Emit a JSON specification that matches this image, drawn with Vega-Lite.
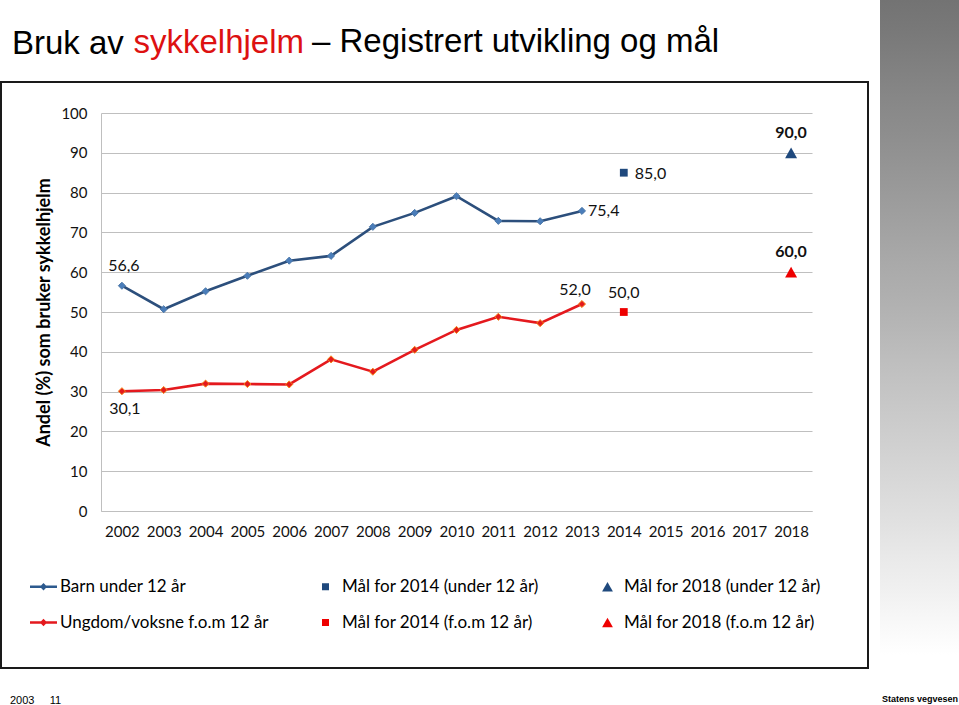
{
  "$schema": "https://vega.github.io/schema/vega-lite/v6.json",
  "width": 867,
  "height": 586,
  "autosize": {"type": "none"},
  "padding": {"left": 1, "top": 82, "right": 91, "bottom": 37},
  "background": "white",
  "config": {
    "locale": {"number": {"decimal": ",", "thousands": " ", "grouping": [3], "currency": ["", " kr"]}},
    "view": {"stroke": "#1a1a1a", "strokeWidth": 2},
    "font": "Lato"
  },
  "title": {
    "text": "Bruk av",
    "font": "Liberation Sans",
    "fontSize": 33,
    "fontWeight": "normal",
    "color": "#000000",
    "anchor": "start",
    "frame": "group",
    "dx": 11,
    "offset": -87,
    "baseline": "alphabetic"
  },
  "datasets": {
    "obs": [
      {"year": 2002, "series": "Barn under 12 år", "value": 56.6},
      {"year": 2003, "series": "Barn under 12 år", "value": 50.7},
      {"year": 2004, "series": "Barn under 12 år", "value": 55.2},
      {"year": 2005, "series": "Barn under 12 år", "value": 59.1},
      {"year": 2006, "series": "Barn under 12 år", "value": 62.9},
      {"year": 2007, "series": "Barn under 12 år", "value": 64.1},
      {"year": 2008, "series": "Barn under 12 år", "value": 71.4},
      {"year": 2009, "series": "Barn under 12 år", "value": 74.9},
      {"year": 2010, "series": "Barn under 12 år", "value": 79.1},
      {"year": 2011, "series": "Barn under 12 år", "value": 72.9},
      {"year": 2012, "series": "Barn under 12 år", "value": 72.8},
      {"year": 2013, "series": "Barn under 12 år", "value": 75.4},
      {"year": 2002, "series": "Ungdom/voksne f.o.m 12 år", "value": 30.1},
      {"year": 2003, "series": "Ungdom/voksne f.o.m 12 år", "value": 30.4},
      {"year": 2004, "series": "Ungdom/voksne f.o.m 12 år", "value": 32.0},
      {"year": 2005, "series": "Ungdom/voksne f.o.m 12 år", "value": 31.9},
      {"year": 2006, "series": "Ungdom/voksne f.o.m 12 år", "value": 31.8},
      {"year": 2007, "series": "Ungdom/voksne f.o.m 12 år", "value": 38.1},
      {"year": 2008, "series": "Ungdom/voksne f.o.m 12 år", "value": 35.0},
      {"year": 2009, "series": "Ungdom/voksne f.o.m 12 år", "value": 40.5},
      {"year": 2010, "series": "Ungdom/voksne f.o.m 12 år", "value": 45.5},
      {"year": 2011, "series": "Ungdom/voksne f.o.m 12 år", "value": 48.8},
      {"year": 2012, "series": "Ungdom/voksne f.o.m 12 år", "value": 47.2},
      {"year": 2013, "series": "Ungdom/voksne f.o.m 12 år", "value": 52.0}
    ],
    "targets": [
      {"year": 2014, "series": "Mål for 2014 (under 12 år)", "value": 85.0},
      {"year": 2014, "series": "Mål for 2014 (f.o.m 12 år)", "value": 50.0},
      {"year": 2018, "series": "Mål for 2018 (under 12 år)", "value": 90.0},
      {"year": 2018, "series": "Mål for 2018 (f.o.m 12 år)", "value": 60.0}
    ]
  },
  "encoding": {
    "x": {
      "field": "year",
      "type": "ordinal",
      "scale": {"type": "point", "domain": [2002, 2003, 2004, 2005, 2006, 2007, 2008, 2009, 2010, 2011, 2012, 2013, 2014, 2015, 2016, 2017, 2018], "range": [100, 811], "padding": 0.5},
      "axis": {
        "orient": "bottom",
        "offset": -157,
        "domain": true,
        "domainColor": "#BFBFBF",
        "domainWidth": 1,
        "ticks": false,
        "grid": false,
        "labelAngle": 0,
        "labelFont": "Lato",
        "labelFontSize": 15,
        "labelColor": "#111111",
        "labelPadding": 13,
        "title": "sykkelhjelm",
        "titleColor": "#DD1111",
        "titleFont": "Liberation Sans",
        "titleFontSize": 33,
        "titleFontWeight": "normal",
        "titleX": 132,
        "titleY": -459,
        "titleAlign": "left",
        "titleAnchor": null,
        "titleBaseline": "alphabetic"
      }
    },
    "y": {
      "field": "value",
      "type": "quantitative",
      "scale": {"domain": [0, 100], "range": [429, 31], "nice": false},
      "axis": {
        "orient": "left",
        "offset": -100,
        "domain": true,
        "domainColor": "#BFBFBF",
        "domainWidth": 1,
        "ticks": false,
        "grid": true,
        "gridColor": "#BFBFBF",
        "gridWidth": 1,
        "values": [0, 10, 20, 30, 40, 50, 60, 70, 80, 90, 100],
        "format": "d",
        "labelFont": "Lato",
        "labelFontSize": 15,
        "labelColor": "#111111",
        "labelPadding": 14,
        "title": "Andel (%) som bruker sykkelhjelm",
        "titleFont": "Lato",
        "titleFontSize": 18,
        "titleFontWeight": "bold",
        "titleColor": "#000000",
        "titlePadding": 7
      }
    }
  },
  "layer": [
    {
      "data": {"name": "obs"},
      "mark": {"type": "line", "strokeWidth": 2.6},
      "encoding": {
        "stroke": {
          "field": "series",
          "type": "nominal",
          "scale": {"domain": ["Barn under 12 år", "Ungdom/voksne f.o.m 12 år"], "range": ["#2C4F7C", "#E4191E"]},
          "legend": {
            "orient": "none",
            "legendX": 9,
            "legendY": 613,
            "values": [],
            "title": "2003\u00a0\u00a0\u00a0\u00a0\u00a011",
            "titleFont": "Liberation Sans",
            "titleFontSize": 11,
            "titleFontWeight": "normal",
            "titleColor": "#000000",
            "titleBaseline": "top"
          }
        }
      }
    },
    {
      "data": {"name": "obs"},
      "mark": {"type": "point", "shape": "diamond", "filled": true, "size": 50, "strokeWidth": 1, "opacity": 1},
      "encoding": {
        "fill": {
          "field": "series",
          "type": "nominal",
          "scale": {"domain": ["Barn under 12 år", "Ungdom/voksne f.o.m 12 år"], "range": ["#4A7DBA", "#E4191E"]},
          "legend": {
            "orient": "none",
            "legendX": 311,
            "legendY": -30,
            "values": [],
            "title": "– Registrert utvikling og mål",
            "titleFont": "Liberation Sans",
            "titleFontSize": 33,
            "titleFontWeight": "normal",
            "titleColor": "#000000",
            "titleBaseline": "alphabetic",
            "titleLimit": 600
          }
        },
        "stroke": {"field": "series", "type": "nominal"}
      }
    },
    {
      "data": {"name": "targets"},
      "mark": {"type": "point", "filled": true, "size": 900, "opacity": 1, "strokeWidth": 0},
      "encoding": {
        "color": {
          "field": "series",
          "type": "nominal",
          "scale": {
            "domain": ["Barn under 12 år", "Ungdom/voksne f.o.m 12 år", "Mål for 2014 (under 12 år)", "Mål for 2014 (f.o.m 12 år)", "Mål for 2018 (under 12 år)", "Mål for 2018 (f.o.m 12 år)"],
            "range": ["#2C5A8E", "#E4191E", "#1F497D", "#EE0000", "#1F497D", "#EE0000"]
          },
          "legend": {
            "title": null,
            "orient": "none",
            "legendX": 29,
            "legendY": 491,
            "columns": 3,
            "gridAlign": "all",
            "columnPadding": 43,
            "rowPadding": 14,
            "symbolSize": 729,
            "symbolStrokeWidth": 0,
            "symbolOpacity": 1,
            "labelFont": "Lato",
            "labelFontSize": 17,
            "labelColor": "#000000",
            "labelOffset": 3,
            "labelLimit": 400
          }
        },
        "shape": {
          "field": "series",
          "type": "nominal",
          "scale": {
            "domain": ["Barn under 12 år", "Ungdom/voksne f.o.m 12 år", "Mål for 2014 (under 12 år)", "Mål for 2014 (f.o.m 12 år)", "Mål for 2018 (under 12 år)", "Mål for 2018 (f.o.m 12 år)"],
            "range": [
              "M-1,-0.1L1,-0.1L1,0.1L-1,0.1Z M0,-0.27L0.27,0L0,0.27L-0.27,0Z",
              "M-1,-0.1L1,-0.1L1,0.1L-1,0.1Z M0,-0.27L0.27,0L0,0.27L-0.27,0Z",
              "M-0.26,-0.26L0.26,-0.26L0.26,0.26L-0.26,0.26Z",
              "M-0.26,-0.26L0.26,-0.26L0.26,0.26L-0.26,0.26Z",
              "M0,-0.36L0.4,0.36L-0.4,0.36Z",
              "M0,-0.36L0.4,0.36L-0.4,0.36Z"
            ]
          }
        }
      }
    },
    {
      "data": {"name": "obs"},
      "transform": [{"filter": "datum.year == 2002 && datum.series == 'Barn under 12 år'"}],
      "mark": {"type": "text", "fontSize": 16, "font": "Lato", "color": "#111111", "dx": 2, "dy": -20, "baseline": "middle"},
      "encoding": {"text": {"field": "value", "type": "quantitative", "format": ".1f"}}
    },
    {
      "data": {"name": "obs"},
      "transform": [{"filter": "datum.year == 2002 && datum.series == 'Ungdom/voksne f.o.m 12 år'"}],
      "mark": {"type": "text", "fontSize": 16, "font": "Lato", "color": "#111111", "dx": 3, "dy": 18, "baseline": "middle"},
      "encoding": {"text": {"field": "value", "type": "quantitative", "format": ".1f"}}
    },
    {
      "data": {"name": "obs"},
      "transform": [{"filter": "datum.year == 2013 && datum.series == 'Barn under 12 år'"}],
      "mark": {"type": "text", "fontSize": 16, "font": "Lato", "color": "#111111", "dx": 6, "dy": 0, "align": "left", "baseline": "middle"},
      "encoding": {"text": {"field": "value", "type": "quantitative", "format": ".1f"}}
    },
    {
      "data": {"name": "obs"},
      "transform": [{"filter": "datum.year == 2013 && datum.series == 'Ungdom/voksne f.o.m 12 år'"}],
      "mark": {"type": "text", "fontSize": 16, "font": "Lato", "color": "#111111", "dx": -7, "dy": -14, "baseline": "middle"},
      "encoding": {"text": {"field": "value", "type": "quantitative", "format": ".1f"}}
    },
    {
      "data": {"name": "targets"},
      "transform": [{"filter": "datum.series == 'Mål for 2014 (f.o.m 12 år)'"}],
      "mark": {"type": "text", "fontSize": 16, "font": "Lato", "color": "#111111", "dy": -19, "baseline": "middle"},
      "encoding": {"text": {"field": "value", "type": "quantitative", "format": ".1f"}}
    },
    {
      "data": {"name": "targets"},
      "transform": [{"filter": "datum.series == 'Mål for 2014 (under 12 år)'"}],
      "mark": {"type": "text", "fontSize": 16, "font": "Lato", "color": "#111111", "dx": 11, "dy": 1, "align": "left", "baseline": "middle"},
      "encoding": {"text": {"field": "value", "type": "quantitative", "format": ".1f"}}
    },
    {
      "data": {"name": "targets"},
      "transform": [{"filter": "datum.year == 2018"}],
      "mark": {"type": "text", "fontSize": 16, "font": "Lato", "fontWeight": "bold", "color": "#111111", "dy": -20, "baseline": "middle", "strokeWidth": 0},
      "encoding": {
        "text": {"field": "value", "type": "quantitative", "format": ".1f"},
        "stroke": {
          "field": "value",
          "type": "quantitative",
          "scale": {"domain": [0, 100], "range": ["#ffffff", "#737373"]},
          "legend": {
            "orient": "none",
            "direction": "vertical",
            "legendX": 879,
            "legendY": -82,
            "gradientLength": 655,
            "gradientThickness": 79,
            "gradientStrokeWidth": 0,
            "values": [],
            "labelExpr": "''",
            "title": "Statens vegvesen",
            "titleOrient": "bottom",
            "titleAnchor": "middle",
            "titleAlign": "center",
            "titleFont": "Liberation Sans",
            "titleFontSize": 9,
            "titleFontWeight": "bold",
            "titleColor": "#000000",
            "titlePadding": 40
          }
        }
      }
    }
  ]
}
